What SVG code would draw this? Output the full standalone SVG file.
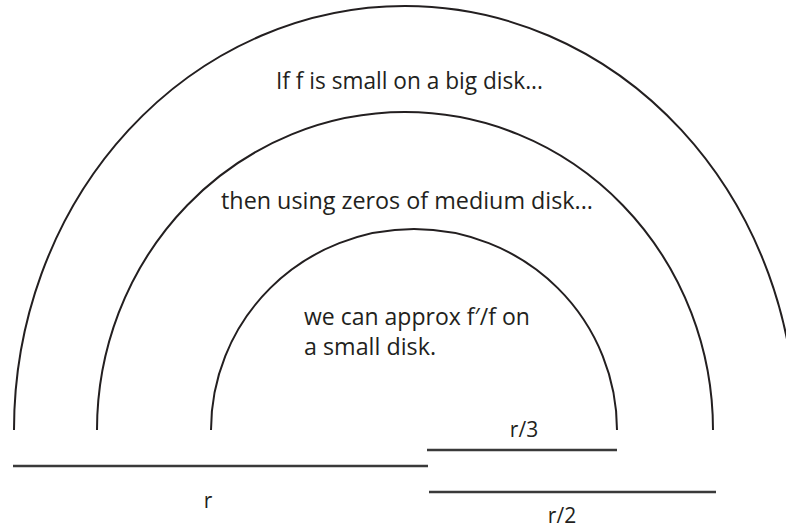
<svg xmlns="http://www.w3.org/2000/svg" width="786" height="529" viewBox="0 0 786 529">
<style>
.arc{fill:none;stroke:#231f20;stroke-width:2}
.bar{stroke:#3a3a3a;stroke-width:2.5}
.t{font-family:"Open Sans","Liberation Sans",sans-serif;font-size:23px;fill:#231f20}
.lb{font-family:"Open Sans","Liberation Sans",sans-serif;font-size:21px;fill:#231f20;text-anchor:middle}
</style>
<rect width="786" height="529" fill="#fff"/>
<g id="big-disk">
<path class="arc" d="M 14 430 A 391 424 0 0 1 796 430"/>
<text class="t" x="276" y="89" textLength="267" lengthAdjust="spacingAndGlyphs">If f is small on a big disk...</text>
</g>
<g id="medium-disk">
<path class="arc" d="M 97 430 A 308 318 0 0 1 713 430"/>
<text class="t" x="221" y="209" textLength="372" lengthAdjust="spacingAndGlyphs">then using zeros of medium disk...</text>
</g>
<g id="small-disk">
<path class="arc" d="M 211 430 A 203 201 0 0 1 617 430"/>
<text class="t" x="304" y="325">we can approx f′/f on</text>
<text class="t" x="304" y="355" textLength="132" lengthAdjust="spacingAndGlyphs">a small disk.</text>
</g>
<g id="radius-r">
<line class="bar" x1="13" y1="466" x2="428" y2="466"/>
<text class="lb" x="208" y="508">r</text>
</g>
<g id="radius-r3">
<line class="bar" x1="427" y1="450" x2="617" y2="450"/>
<text class="lb" x="524" y="437">r/3</text>
</g>
<g id="radius-r2">
<line class="bar" x1="429" y1="492" x2="716" y2="492"/>
<text class="lb" x="562" y="523">r/2</text>
</g>
<g id="connectors"></g>
</svg>
